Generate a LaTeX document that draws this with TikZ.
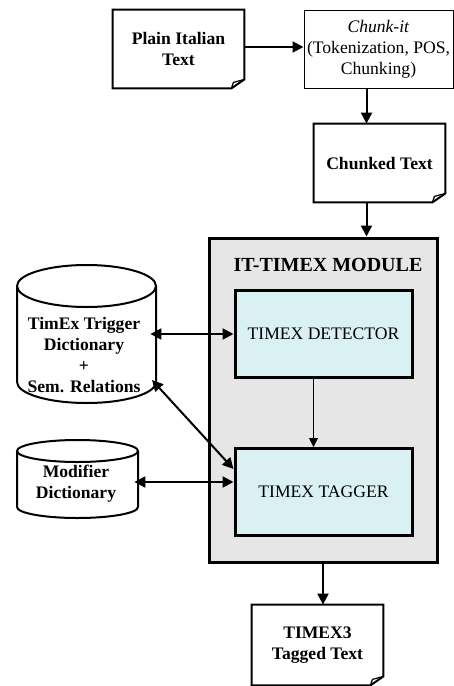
\documentclass[tikz,border=0pt]{standalone}
\usepackage{fontspec}
\setmainfont{Liberation Serif}
\usetikzlibrary{arrows.meta}

\definecolor{unitfill}{RGB}{217,241,243}
\definecolor{modfill}{RGB}{230,230,230}

% paper sheet with a turned-up corner, drawn round a named node
\newcommand{\sheet}[1]{%
  \draw[line width=1pt, line join=miter] (#1.north west) -- (#1.north east)
       -- ([yshift=4.5pt]#1.south east) -- ([xshift=-6.5pt]#1.south east)
       -- (#1.south west) -- cycle;
  \draw[line width=0.6pt] ([yshift=4.5pt]#1.south east)
       -- ([xshift=-5.5pt,yshift=3pt]#1.south east)
       -- ([xshift=-6.5pt]#1.south east);}

% upright drum: left x, right x, top y, bottom y, half height of the rim
\newcommand{\drum}[5]{%
  \fill[white] (#1,#3+#5) -- (#1,#4-#5) arc[start angle=180, end angle=0, x radius={(#2-#1)/2}, y radius=#5]
       -- (#2,#3+#5) arc[start angle=0, end angle=-180, x radius={(#2-#1)/2}, y radius=#5];
  \draw[line width=1pt] (#1,#3+#5) -- (#1,#4-#5)
       arc[start angle=180, end angle=0, x radius={(#2-#1)/2}, y radius=#5] -- (#2,#3+#5);
  \draw[line width=1pt] ({(#1+#2)/2},#3+#5) ellipse[x radius={(#2-#1)/2}, y radius=#5];}

\begin{document}
\begin{tikzpicture}[x=0.5pt, y=-0.5pt,
    every node/.style={font=\fontsize{8.8pt}{10.5pt}\selectfont, align=center, inner sep=0pt},
    page/.style={minimum width=65.5pt, minimum height=39pt, font=\fontsize{8.8pt}{10.5pt}\selectfont\bfseries},
    unit/.style={draw, line width=1.5pt, fill=unitfill, minimum width=88.5pt, minimum height=43.5pt},
    flow/.style={line width=1pt, -{Triangle[length=5.5pt, width=5.5pt]}},
    both/.style={line width=1pt, {Triangle[length=5.5pt, width=5.5pt]}-{Triangle[length=5.5pt, width=5.5pt]}}]
  \useasboundingbox (0,0) rectangle (454,686);

  % input side
  \node[page] (plain) at (178.5,49) {Plain Italian\\Text};
  \sheet{plain}
  \node[draw, line width=0.5pt, minimum width=74.5pt, minimum height=39pt] (chunkit) at (378.5,49)
       {\textit{Chunk-it}\\(Tokenization, POS,\\Chunking)};
  \node[page] (chunked) at (379.5,163) {Chunked Text};
  \sheet{chunked}

  % the module
  \node[draw, line width=1.5pt, fill=modfill, minimum width=114pt, minimum height=162pt] (module) at (323,400) {};
  \node[font=\fontsize{10pt}{12pt}\selectfont\bfseries] (title) at (328,265) {IT-TIMEX MODULE};
  \node[unit] (detector) at (323.5,334) {TIMEX DETECTOR};
  \node[unit] (tagger) at (323.5,492) {TIMEX TAGGER};

  % resources
  \drum{17}{156}{265}{403}{21}
  \node[font=\fontsize{8.8pt}{10.5pt}\selectfont\bfseries, minimum width=66pt] (trigger) at (84,355)
       {TimEx Trigger\\Dictionary\\+\\Sem. Relations};
  \coordinate (trigger-rim) at (152,380);
  \drum{17}{138}{440}{518}{11}
  \node[font=\fontsize{8.8pt}{10.5pt}\selectfont\bfseries, minimum width=58pt] (modifier) at (76,484)
       {Modifier\\Dictionary};

  % output
  \node[page, minimum height=40pt] (tagged) at (317.5,645) {TIMEX3\\Tagged Text};
  \sheet{tagged}

  % connectors
  \draw[flow] ([yshift=1pt]plain.east) -- ([yshift=1pt]chunkit.west);
  \draw[flow] ([xshift=-6pt]chunkit.south) -- ([xshift=-6.5pt]chunked.north);
  \draw[flow] ([xshift=-6.5pt]chunked.south) -- ([xshift=-6.5pt]chunked.south |- module.north);
  \draw[line width=0.5pt, -{Triangle[length=4.5pt, width=4.5pt]}] ([xshift=-5pt]detector.south) -- ([xshift=-5pt]tagger.north);
  \draw[flow] (module.south) -- (module.south |- tagged.north);
  \draw[both] (trigger.east |- detector.west) -- (detector.west);
  \draw[both] (trigger-rim) -- ([yshift=-11pt]tagger.north west);
  \draw[both] (modifier.east |- 0,482) -- ([yshift=5pt]tagger.west);
\end{tikzpicture}
\end{document}
